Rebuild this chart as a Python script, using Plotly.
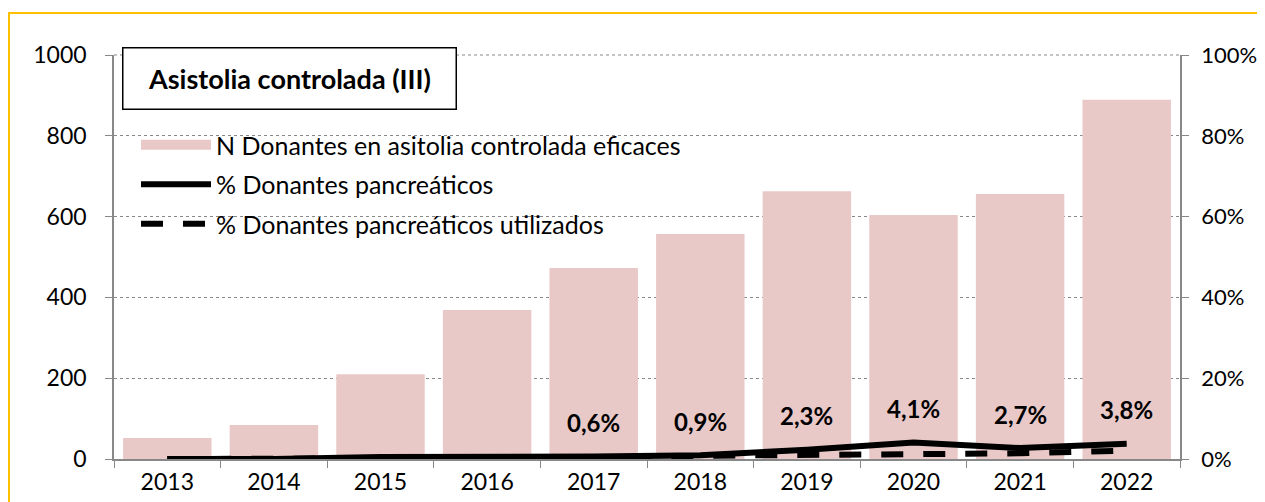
import plotly.graph_objects as go

years = ["2013", "2014", "2015", "2016", "2017", "2018", "2019", "2020", "2021", "2022"]
donantes = [52, 84, 210, 369, 473, 557, 663, 604, 656, 889]
pct_panc = [0.0, 0.0, 0.5, 0.5, 0.6, 0.9, 2.3, 4.1, 2.7, 3.8]
pct_util = [0.0, 0.0, 0.2, 0.2, 0.3, 0.8, 1.0, 1.1, 1.4, 2.1]
label_years = ["2017", "2018", "2019", "2020", "2021", "2022"]
label_text = ["0,6%", "0,9%", "2,3%", "4,1%", "2,7%", "3,8%"]
left_ticks = [0, 200, 400, 600, 800, 1000]
right_ticks = [0, 20, 40, 60, 80, 100]

# page has an 8px body margin; work in page pixels and convert
OFF = 8
W, H = 1265 - OFF, 502 - OFF
PL, PR, PT, PB = 114, 1180, 55, 459   # plot area in page pixels
ML, MT = PL - OFF, PT - OFF
MR, MB = W - (PR - OFF), H - (PB - OFF)
PW, PH = PR - PL, PB - PT


def px(xp):
    return (xp - PL) / PW


def py(yp):
    return 1 - (yp - PT) / PH


FONT = "Lato"
BAR = "#E8C9C8"

fig = go.Figure()
fig.add_trace(go.Bar(x=years, y=donantes, name="N Donantes en asitolia controlada eficaces",
                     marker=dict(color=BAR, line=dict(width=0)), showlegend=False))
fig.add_trace(go.Scatter(x=[None], y=[None], mode="lines", legendgroup="a",
                         name="N Donantes en asitolia controlada eficaces",
                         line=dict(color=BAR, width=15)))
fig.add_trace(go.Scatter(x=years, y=pct_panc, name="% Donantes pancreáticos", yaxis="y2",
                         legendgroup="b", mode="lines", line=dict(color="black", width=6)))
fig.add_trace(go.Scatter(x=years, y=pct_util, name="% Donantes pancreáticos utilizados",
                         yaxis="y2", legendgroup="c", mode="lines",
                         line=dict(color="black", width=6, dash="22px,20px")))

for yr, t in zip(label_years, label_text):
    i = years.index(yr)
    fig.add_annotation(x=i, xref="x", y=pct_panc[i], yref="y2", text="<b>" + t + "</b>",
                       showarrow=False, yshift=34,
                       font=dict(family=FONT, size=24, color="black"))

# top gridline (at the range edge, not drawn by plotly)
fig.add_shape(type="line", xref="paper", yref="paper", x0=0, x1=1, y0=1, y1=1,
              line=dict(color="#888", width=1, dash="dot"), layer="below")

fig.add_annotation(xref="paper", yref="paper", x=px(122), y=py(47),
                   xanchor="left", yanchor="top", width=332, height=60,
                   align="center", valign="middle",
                   text="<b>Asistolia controlada (III)</b>", showarrow=False,
                   font=dict(family=FONT, size=27, color="black"),
                   bordercolor="black", borderwidth=1.5, borderpad=0, bgcolor="white")

# outer gold border
fig.add_shape(type="rect", xref="paper", yref="paper",
              x0=px(OFF + 1), x1=px(1300), y0=py(540), y1=py(13),
              line=dict(color="#FFC000", width=2), fillcolor="rgba(0,0,0,0)", layer="below")

fig.update_layout(
    width=W, height=H,
    margin=dict(l=ML, r=MR, t=MT, b=MB, autoexpand=False),
    paper_bgcolor="white", plot_bgcolor="white",
    font=dict(family=FONT, size=23, color="black"),
    bargap=0.17,
    showlegend=True,
    legend=dict(x=px(136), y=py(122), xanchor="left", yanchor="top",
                bgcolor="rgba(0,0,0,0)", font=dict(family=FONT, size=25),
                itemwidth=70, tracegroupgap=4),
    xaxis=dict(type="category", range=[-0.5, len(years) - 0.5], showline=True,
               linecolor="#888", linewidth=1.5,
               ticks="outside", tickson="boundaries", ticklen=7, tickcolor="#888",
               tickfont=dict(size=23), showgrid=False, zeroline=False, tickangle=0,
               ticklabelstandoff=2),
    yaxis=dict(range=[0, 1000], tickvals=left_ticks, ticktext=[str(v) for v in left_ticks],
               showline=True, linecolor="#888", linewidth=1.5,
               ticks="outside", ticklen=7, tickcolor="#888", showgrid=True,
               gridcolor="#888", griddash="dot", gridwidth=1, zeroline=False,
               tickfont=dict(size=23), ticklabelstandoff=14),
    yaxis2=dict(range=[0, 100], tickvals=right_ticks,
                ticktext=[f"{v}%" for v in right_ticks], overlaying="y",
                side="right", showline=True,
                linecolor="#888", linewidth=1.5, ticks="outside", ticklen=7, tickcolor="#888",
                showgrid=False, zeroline=False, tickfont=dict(size=22),
                ticklabelstandoff=8),
)

fig.write_html("out.html")
